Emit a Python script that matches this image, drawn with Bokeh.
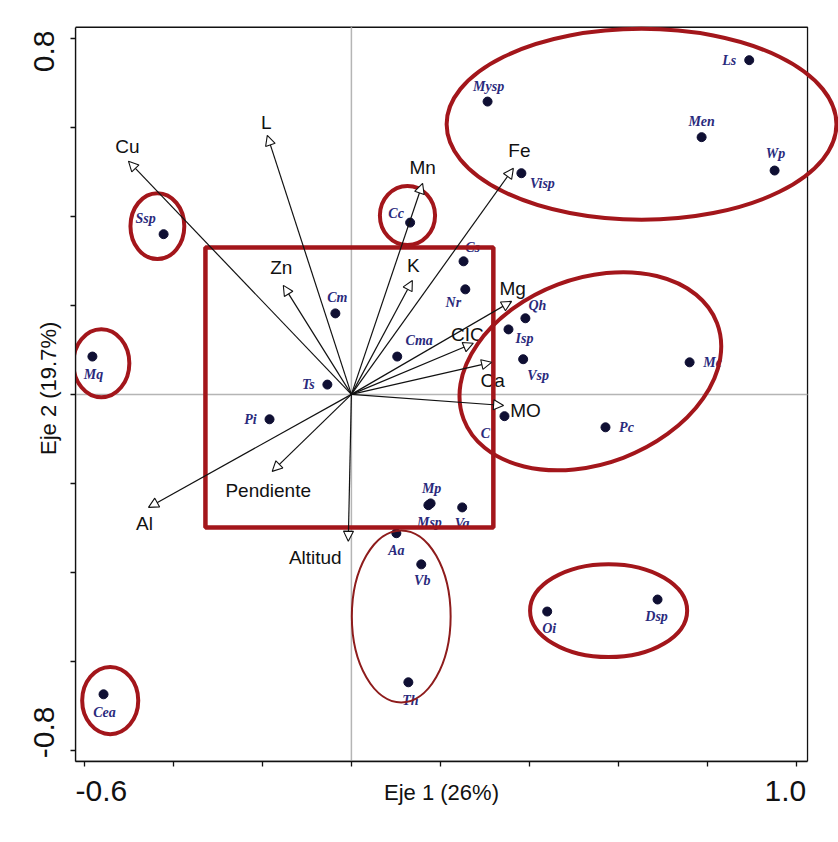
import json
from bokeh.plotting import figure
from bokeh.models import (ColumnDataSource, Range1d, FixedTicker, Arrow, NormalHead,
                          LinearAxis, CustomJSTickFormatter)
from bokeh.core.properties import value
from bokeh.embed import file_html
from bokeh.resources import INLINE

# ---------------- data ----------------
species = ["Ssp", "Mq", "Cc", "Cm", "Ts", "Cma", "Pi", "Cs", "Nr", "Mysp", "Ls", "Men",
           "Wp", "Visp", "Qh", "Isp", "Vsp", "Mc", "C", "Pc", "Mp", "Msp", "Va", "Aa",
           "Vb", "Th", "Oi", "Dsp", "Cea"]
sp_x = [-0.422, -0.582, 0.132, -0.036, -0.054, 0.103, -0.184, 0.252, 0.256, 0.306, 0.894,
        0.787, 0.951, 0.382, 0.391, 0.353, 0.386, 0.760, 0.344, 0.571, 0.178, 0.173,
        0.249, 0.101, 0.157, 0.128, 0.440, 0.688, -0.557]
sp_y = [0.360, 0.085, 0.386, 0.182, 0.022, 0.085, -0.056, 0.299, 0.236, 0.658, 0.751,
        0.578, 0.503, 0.497, 0.171, 0.146, 0.079, 0.072, -0.049, -0.074, -0.245, -0.249,
        -0.254, -0.312, -0.382, -0.647, -0.488, -0.461, -0.674]

variables = ["Cu", "L", "Zn", "K", "Mn", "Fe", "Mg", "CIC", "Ca", "MO", "Pendiente", "Al", "Altitud"]
var_x = [-0.501, -0.189, -0.153, 0.137, 0.160, 0.364, 0.360, 0.274, 0.315, 0.342, -0.178, -0.456, -0.007]
var_y = [0.524, 0.582, 0.245, 0.256, 0.474, 0.508, 0.209, 0.115, 0.072, -0.025, -0.173, -0.254, -0.330]

x_ticks = [-0.6, -0.4, -0.2, 0.0, 0.2, 0.4, 0.6, 0.8, 1.0]
y_ticks = [-0.8, -0.6, -0.4, -0.2, 0.0, 0.2, 0.4, 0.6, 0.8]
x_label_values = [-0.6, 1.0]
x_label_texts = ["-0.6", "1.0"]
y_label_values = [-0.8, 0.8]
y_label_texts = ["-0.8", "0.8"]
x_title = "Eje 1 (26%)"
y_title = "Eje 2 (19.7%)"

# group outlines (centre x, centre y, width, height, angle) in axis units
grp_x = [0.652, -0.436, -0.562, 0.126, 0.537, 0.578, -0.542]
grp_y = [0.607, 0.378, 0.070, 0.402, 0.052, -0.486, -0.688]
grp_w = [0.876, 0.121, 0.126, 0.124, 0.609, 0.353, 0.126]
grp_h = [0.429, 0.148, 0.153, 0.133, 0.416, 0.209, 0.151]
grp_a = [0.0, 0.0, 0.0, 0.0, 0.363, 0.0, 0.0]
th_x, th_y, th_w, th_h = [0.112], [-0.499], [0.222], [0.387]
box_l, box_r, box_b, box_t = [-0.328], [0.319], [-0.299], [0.330]

XLIM = (-0.62, 1.025)
YLIM = (-0.825, 0.825)

# ---------------- label offsets (pixels, +x right, +y down) ----------------
sp_dx = [-18, 1, -14, 2, -19, 22, -19, 9, -12, 1, -20, 0, 1, 21, 12, 16, 15, 23, -19, 21,
         1, 1, 0, 0, 1, 2, 2, -1, 1]
sp_dy = [-16, 18, -9, -16, 0, -16, 0, -14, 13, -15, 0, -16, -17, 10, -13, 9, 16, 0, 17, 0,
         -15, 17, 16, 17, 16, 18, 17, 17, 18]
var_dx = [-1, -1, -2, 1, 0, 6, 1, -6, 1, 22, -4, -4, -33]
var_dy = [-15, -13, -18, -15, -16, -18, -13, -9, 18, 5, 19, 16, 16]
x_label_shift = [17, -11]    # px along the axis (+ = right)
y_label_shift = [18, -13]    # px along the axis (+ = up)
y_title_shift = 6            # px up from frame centre

RED = "#a3161b"
NAVY = "#2a2a7c"
DOT = "#0f0f33"
INK = "#111111"
SANS = "Liberation Sans"
SERIF = "Liberation Serif"

# ---------------- figure ----------------
W, H = 838, 842
ML, MR, MT, MB = 75, 0, 25, 81
fw = W - ML - MR
fh = H - MT - MB
PX = 1 / 445.0
xr = Range1d(XLIM[0], XLIM[0] + fw * PX)
yr = Range1d(YLIM[0], YLIM[0] + fh * PX)

p = figure(width=W, height=H, x_range=xr, y_range=yr, output_backend="svg",
           toolbar_location=None, min_border_left=ML, min_border_right=MR,
           min_border_top=MT, min_border_bottom=MB, x_axis_location=None,
           y_axis_location=None)
p.grid.visible = False
p.outline_line_color = None
p.background_fill_color = "white"
p.border_fill_color = "white"


def tick_axis(ticks, bounds):
    ax = LinearAxis(ticker=FixedTicker(ticks=ticks), bounds=bounds,
                    formatter=CustomJSTickFormatter(code="return '';"))
    ax.major_label_standoff = 0
    ax.major_label_text_font_size = "1px"
    ax.minor_tick_line_color = None
    ax.major_tick_in = 0
    ax.major_tick_out = 5
    ax.axis_line_width = 1.3
    ax.major_tick_line_width = 1.3
    ax.axis_line_color = INK
    ax.major_tick_line_color = INK
    return ax


def text_axis(positions, texts, size, standoff, orient):
    fmt = CustomJSTickFormatter(code="const labs = %s; return labs[index];" % json.dumps(texts))
    ax = LinearAxis(ticker=FixedTicker(ticks=positions), formatter=fmt)
    ax.axis_line_color = None
    ax.major_tick_line_color = None
    ax.minor_tick_line_color = None
    ax.major_tick_in = 0
    ax.major_tick_out = 0
    ax.major_label_standoff = standoff
    ax.major_label_text_font = SANS
    ax.major_label_text_font_size = size
    ax.major_label_text_color = INK
    ax.major_label_orientation = orient
    return ax


# x axis: ticks, title row, numbers (numbers pulled back up into the title row)
p.add_layout(tick_axis(x_ticks, XLIM), "below")
p.add_layout(text_axis([(XLIM[0] + XLIM[1]) / 2], [x_title], "22px", 13, "horizontal"), "below")
p.add_layout(text_axis([v + s * PX for v, s in zip(x_label_values, x_label_shift)],
                       x_label_texts, "30px", -27, "horizontal"), "below")
# y axis
p.add_layout(tick_axis(y_ticks, YLIM), "left")
p.add_layout(text_axis([(YLIM[0] + YLIM[1]) / 2 + y_title_shift * PX], [y_title], "22px", 10,
                       "vertical"), "left")
p.add_layout(text_axis([v + s * PX for v, s in zip(y_label_values, y_label_shift)],
                       y_label_texts, "30px", -21, "vertical"), "left")

# frame
p.quad(left=[XLIM[0]], right=[XLIM[1]], bottom=[YLIM[0]], top=[YLIM[1]],
       fill_color=None, line_color=INK, line_width=1.3)

# zero lines
p.segment(x0=[XLIM[0], 0.0], y0=[0.0, YLIM[0]], x1=[XLIM[1], 0.0], y1=[0.0, YLIM[1]],
          line_color="#b5b5b5", line_width=1.5)

# arrows
asrc = ColumnDataSource(dict(x0=[0.0] * len(var_x), y0=[0.0] * len(var_y), x=var_x, y=var_y,
                             name=variables, dx=var_dx, dy=var_dy))
p.add_layout(Arrow(end=NormalHead(size=10, fill_color="white", line_color=INK, line_width=1.1),
                   x_start="x0", y_start="y0", x_end="x", y_end="y", source=asrc,
                   line_color=INK, line_width=1.2))
p.text(x="x", y="y", text="name", x_offset="dx", y_offset="dy", source=asrc,
       text_align="center", text_baseline="middle", text_font=value(SANS),
       text_font_size="19px", text_color=INK)

# species
ssrc = ColumnDataSource(dict(x=sp_x, y=sp_y, name=species, dx=sp_dx, dy=sp_dy))
p.scatter(x="x", y="y", source=ssrc, size=9, fill_color=DOT, line_color=DOT)
p.text(x="x", y="y", text="name", x_offset="dx", y_offset="dy", source=ssrc,
       text_align="center", text_baseline="middle", text_font=value(SERIF),
       text_font_style="bold italic", text_font_size="14px", text_color=NAVY)

# red box and group outlines
p.quad(left=box_l, right=box_r, bottom=box_b, top=box_t, fill_color=None,
       line_color=RED, line_width=4.5)
p.ellipse(x=grp_x, y=grp_y, width=grp_w, height=grp_h, angle=grp_a,
          fill_color=None, line_color=RED, line_width=4)
p.ellipse(x=th_x, y=th_y, width=th_w, height=th_h, fill_color=None,
          line_color="#8e1c1c", line_width=2)

open("out.html", "w").write(file_html(p, INLINE))
